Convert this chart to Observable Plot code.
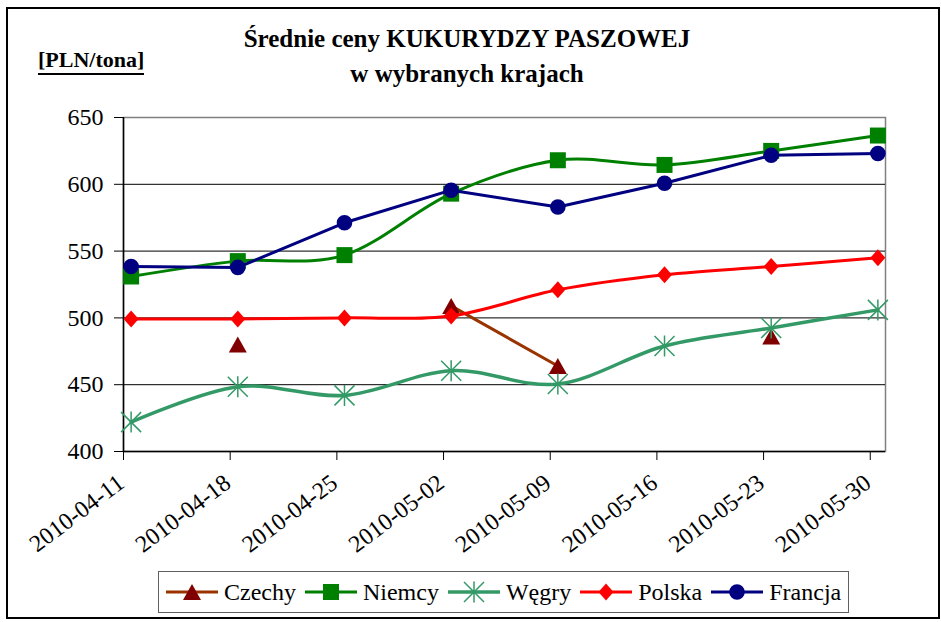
<!DOCTYPE html>
<html>
<head>
<meta charset="utf-8">
<script src="https://cdn.jsdelivr.net/npm/d3@7"></script>
<script src="https://cdn.jsdelivr.net/npm/@observablehq/plot@0.6"></script>
<style>
  html, body { margin: 0; padding: 0; background: #fff; }
  #wrap { position: relative; width: 941px; height: 622px; background: #fff; font-family: 'Liberation Serif'; color: #000; }
  #border { position: absolute; left: 6px; top: 7px; width: 934px; height: 612px; border: 2px solid #000; box-sizing: border-box; pointer-events: none; }
  #chart { position: absolute; left: 0; top: 0; }
  #title { position: absolute; left: 0; top: 21px; width: 934px; text-align: center; font: bold 25px/35px 'Liberation Serif'; white-space: nowrap; }
  #unit { position: absolute; left: 38px; top: 48.6px; font: bold 22px/22px 'Liberation Serif'; }
  #unit span { display: inline-block; border-bottom: 2px solid #000; padding-bottom: 2.4px; }
  #legend { position: absolute; left: 158px; top: 571px; width: 691px; height: 42px; box-sizing: border-box; border: 1px solid #606060; background: #fff;
            display: flex; align-items: center; padding-left: 7px; font: 24px/24px 'Liberation Serif'; }
  .item { display: flex; align-items: center; margin-right: 9px; }
  .item svg { display: block; margin-right: 6px; }
</style>
</head>
<body>
<div id="wrap">
  <div id="chart"></div>
  <div id="title"></div>
  <div id="unit"><span></span></div>
  <div id="legend"></div>
  <div id="border"></div>
</div>
<script>
// ---- data ----
const dates   = ["2010-04-11","2010-04-18","2010-04-25","2010-05-02","2010-05-09","2010-05-16","2010-05-23","2010-05-30"];
const czechy  = [null, 480, null, 509, 464, null, 486, null];
const niemcy  = [531, 542.5, 547, 593, 618, 614.5, 625, 636.5];
const wegry   = [422, 448.5, 442, 460.5, 450.5, 479, 492.5, 506];
const polska  = [499.2, 499.2, 500, 501.5, 521, 532.3, 538.5, 545];
const francja = [538.5, 537.8, 571.2, 595.6, 583, 600.8, 621.7, 623];
const seriesNames = ["Czechy", "Niemcy", "Węgry", "Polska", "Francja"];
const yTicks = [400, 450, 500, 550, 600, 650];
const title1 = "Średnie ceny KUKURYDZY PASZOWEJ";
const title2 = "w wybranych krajach";
const unitLabel = "[PLN/tona]";

const FONT = "Liberation Serif";

// ---- marker shapes ----
const sym = {
  triangle: { draw(c) { c.moveTo(0, -8); c.lineTo(9, 8); c.lineTo(-9, 8); c.closePath(); } },
  square:   { draw(c) { c.rect(-8, -8, 16, 16); } },
  star:     { draw(c) { c.moveTo(-10, -10); c.lineTo(10, 10); c.moveTo(-10, 10); c.lineTo(10, -10); c.moveTo(0, -10.5); c.lineTo(0, 10.5); } },
  diamond:  { draw(c) { c.moveTo(0, -8.5); c.lineTo(7.5, 0); c.lineTo(0, 8.5); c.lineTo(-7.5, 0); c.closePath(); } },
  circle:   { draw(c) { c.moveTo(7.8, 0); c.arc(0, 0, 7.8, 0, 2 * Math.PI); } }
};

const seriesValues = [czechy, niemcy, wegry, polska, francja];
const seriesStyle = [
  { line: "#993300", mark: "#800000", symbol: sym.triangle, filled: true,  curve: "linear",   width: 3 },
  { line: "#008000", mark: "#008000", symbol: sym.square,   filled: true,  curve: "cardinal", width: 3 },
  { line: "#339966", mark: "#339966", symbol: sym.star,     filled: false, curve: "cardinal", width: 3.5 },
  { line: "#FF0000", mark: "#FF0000", symbol: sym.diamond,  filled: true,  curve: "cardinal", width: 3 },
  { line: "#000080", mark: "#000080", symbol: sym.circle,   filled: true,  curve: "linear",   width: 3 }
];

// points sit in the middle of each day (Excel date axis)
const pointDate = d => new Date(d + "T12:00:00Z");
const tickDates = dates.map(d => new Date(d + "T00:00:00Z"));
const xDomain = [new Date("2010-04-11T00:00:00Z"), new Date("2010-05-31T00:00:00Z")];
const fmt = d3.utcFormat("%Y-%m-%d");

const marks = [
  Plot.frame({ stroke: "#808080", strokeWidth: 1.5 }),
  Plot.gridY(yTicks.filter(v => v > 400 && v < 650), { stroke: "#000", strokeOpacity: 1, strokeWidth: 1 }),
  Plot.ruleY([400], { stroke: "#000", strokeWidth: 1.5 }),
  Plot.ruleX([xDomain[0]], { stroke: "#000", strokeWidth: 1.5 }),
  Plot.axisY({ ticks: yTicks, tickSize: 9, tickPadding: 11, fontSize: 24, label: null, tickFormat: d => String(d), fontFamily: FONT }),
  Plot.axisX({ ticks: tickDates, tickSize: 9, label: null, tickFormat: () => "" }),
  Plot.text(tickDates, { x: d => d, frameAnchor: "bottom", text: d => fmt(d), rotate: -37,
    textAnchor: "end", lineAnchor: "top", dx: -8, dy: 21, fontSize: 24, fontFamily: FONT, fill: "#000" })
];

seriesNames.forEach((name, i) => {
  const st = seriesStyle[i];
  const rows = dates.map((d, j) => ({ date: pointDate(d), value: seriesValues[i][j] }));
  marks.push(Plot.line(rows, { x: "date", y: "value", stroke: st.line, strokeWidth: st.width, curve: st.curve }));
  marks.push(Plot.dot(rows.filter(r => r.value != null), {
    x: "date", y: "value", symbol: st.symbol, r: 5,
    fill: st.filled ? st.mark : "none",
    stroke: st.filled ? "none" : st.mark, strokeWidth: st.filled ? 0 : 1.5
  }));
});

const chart = Plot.plot({
  width: 941, height: 622,
  marginLeft: 123, marginRight: 56, marginTop: 117, marginBottom: 171,
  style: { fontFamily: FONT, fontSize: "24px", color: "#000", background: "transparent", overflow: "visible" },
  x: { type: "utc", domain: xDomain, axis: null },
  y: { domain: [400, 650], axis: null },
  marks
});
document.getElementById("chart").appendChild(chart);

// ---- title, unit label, legend (HTML text) ----
const titleDiv = document.getElementById("title");
[title1, title2].forEach(t => { const d = document.createElement("div"); d.textContent = t; titleDiv.appendChild(d); });
document.querySelector("#unit span").textContent = unitLabel;

const legend = d3.select("#legend");
seriesNames.forEach((name, i) => {
  const st = seriesStyle[i];
  const item = legend.append("div").attr("class", "item");
  const svg = item.append("svg").attr("width", 52).attr("height", 24);
  svg.append("line").attr("x1", 0).attr("x2", 52).attr("y1", 12).attr("y2", 12)
    .attr("stroke", st.line).attr("stroke-width", st.width);
  const p = d3.path(); st.symbol.draw(p);
  svg.append("path").attr("d", p.toString()).attr("transform", "translate(26,12)")
    .attr("fill", st.filled ? st.mark : "none").attr("stroke", st.filled ? "none" : st.mark).attr("stroke-width", 1.5);
  item.append("span").text(name);
});
</script>
</body>
</html>
